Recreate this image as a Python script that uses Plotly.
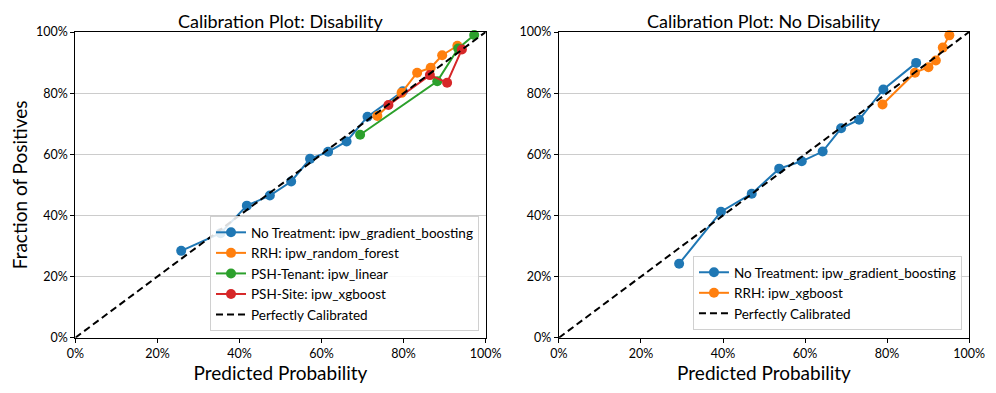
import plotly.graph_objects as go

# Left panel: Disability (values in percent)
dis_none_x = [25.8, 35.4, 41.8, 47.4, 52.6, 57.2, 61.6, 66.1, 71.2, 79.8]
dis_none_y = [28.4, 34.2, 43.2, 46.5, 51.1, 58.5, 60.8, 64.2, 72.3, 80.6]
dis_rrh_x = [73.6, 79.5, 83.3, 86.6, 89.4, 93.1]
dis_rrh_y = [72.5, 80.1, 86.7, 88.3, 92.4, 95.5]
dis_tenant_x = [69.4, 88.2, 93.3, 97.2]
dis_tenant_y = [66.4, 83.9, 94.6, 99.0]
dis_site_x = [76.3, 86.4, 90.6, 94.2]
dis_site_y = [76.1, 85.9, 83.4, 94.3]

# Right panel: No Disability
nodis_none_x = [29.3, 39.5, 47.0, 53.7, 59.2, 64.3, 68.8, 73.2, 79.1, 87.1]
nodis_none_y = [24.2, 41.2, 47.1, 55.3, 57.7, 60.9, 68.5, 71.3, 81.2, 89.9]
nodis_rrh_x = [78.9, 86.8, 90.1, 91.9, 93.6, 95.2]
nodis_rrh_y = [76.3, 86.7, 88.5, 90.7, 94.9, 98.9]

diag = [0, 100]

FONT = "Lato"
colors = ['#1f77b4', '#ff7f0e', '#2ca02c', '#d62728']

left_series = [
    ('No Treatment: ipw_gradient_boosting', dis_none_x, dis_none_y),
    ('RRH: ipw_random_forest', dis_rrh_x, dis_rrh_y),
    ('PSH-Tenant: ipw_linear', dis_tenant_x, dis_tenant_y),
    ('PSH-Site: ipw_xgboost', dis_site_x, dis_site_y),
]
right_series = [
    ('No Treatment: ipw_gradient_boosting', nodis_none_x, nodis_none_y),
    ('RRH: ipw_xgboost', nodis_rrh_x, nodis_rrh_y),
]

fig = go.Figure()

for i, (name, xs, ys) in enumerate(left_series):
    fig.add_trace(go.Scatter(
        x=xs, y=ys, name=name, mode='lines+markers',
        line=dict(color=colors[i], width=2),
        marker=dict(color=colors[i], size=10),
        xaxis='x', yaxis='y', legend='legend', cliponaxis=False,
    ))
fig.add_trace(go.Scatter(
    x=diag, y=diag, name='Perfectly Calibrated', mode='lines',
    line=dict(color='black', width=2, dash='7px,4px'),
    xaxis='x', yaxis='y', legend='legend',
))

for i, (name, xs, ys) in enumerate(right_series):
    fig.add_trace(go.Scatter(
        x=xs, y=ys, name=name, mode='lines+markers',
        line=dict(color=colors[i], width=2),
        marker=dict(color=colors[i], size=10),
        xaxis='x2', yaxis='y2', legend='legend2', cliponaxis=False,
    ))
fig.add_trace(go.Scatter(
    x=diag, y=diag, name='Perfectly Calibrated', mode='lines',
    line=dict(color='black', width=2, dash='7px,4px'),
    xaxis='x2', yaxis='y2', legend='legend2',
))

axis_common = dict(
    range=[0, 100], dtick=20, ticksuffix='%',
    showline=True, linecolor='black', linewidth=1.2, mirror=True,
    ticks='outside', ticklen=4, tickcolor='black',
    tickfont=dict(family=FONT, size=12.5, color='black'),
    zeroline=False, automargin=False,
)
x_common = dict(axis_common, showgrid=False,
                title=dict(text='Predicted Probability', font=dict(family=FONT, size=19, color='black'), standoff=6))
y_common = dict(axis_common, showgrid=True, gridcolor='#cccccc', gridwidth=1)

legend_common = dict(
    bgcolor='rgba(255,255,255,0.85)', bordercolor='#d0d0d0', borderwidth=1,
    font=dict(family=FONT, size=13.5, color='black'),
    xanchor='right', yanchor='bottom', itemwidth=30, tracegroupgap=0,
)

# the page has an 8px body margin, so domains are offset by 8px
fig.update_layout(
    width=996, height=393,
    margin=dict(l=0, r=0, t=0, b=0, autoexpand=False),
    paper_bgcolor='white', plot_bgcolor='white',
    font=dict(family=FONT, color='black'),
    xaxis=dict(x_common, domain=[0.0676, 0.4796], anchor='y'),
    yaxis=dict(y_common, domain=[0.1611, 0.9389], anchor='x',
               title=dict(text='Fraction of Positives', font=dict(family=FONT, size=19, color='black'), standoff=8)),
    xaxis2=dict(x_common, domain=[0.5532, 0.9649], anchor='y2'),
    yaxis2=dict(y_common, domain=[0.1611, 0.9389], anchor='x2'),
    legend=dict(legend_common, x=0.4729, y=0.178),
    legend2=dict(legend_common, x=0.9578, y=0.1807),
    annotations=[
        dict(text='Calibration Plot: Disability', x=0.2736, y=1.0, xref='paper', yref='paper',
             xanchor='center', yanchor='top', showarrow=False,
             font=dict(family=FONT, size=18, color='black')),
        dict(text='Calibration Plot: No Disability', x=0.759, y=1.0, xref='paper', yref='paper',
             xanchor='center', yanchor='top', showarrow=False,
             font=dict(family=FONT, size=18, color='black')),
    ],
)

fig.write_html("out.html")
